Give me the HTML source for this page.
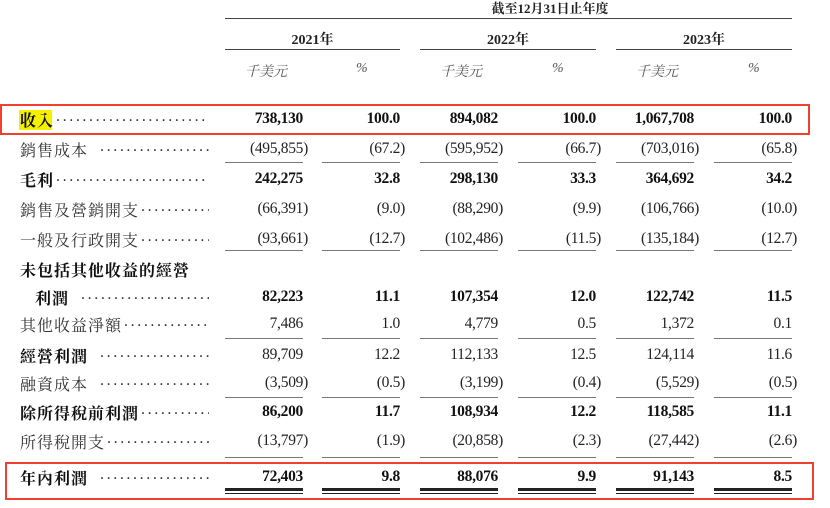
<!DOCTYPE html>
<html><head><meta charset="utf-8"><style>
body{margin:0;width:830px;height:508px;background:#fff;position:relative;overflow:hidden;font-family:"Liberation Serif","Noto Serif CJK SC",serif;color:#222}
.a{position:absolute;white-space:nowrap}
.lab{left:20px;width:189px;display:flex;font-size:16px;letter-spacing:1px;font-family:"Liberation Serif","Noto Serif CJK TC","Noto Serif CJK SC",serif;color:#333}
.lab b{color:#111}
.lab i{flex:1;overflow:hidden;font-style:normal;font-family:"Liberation Serif",serif;letter-spacing:2.6px;padding-left:2px}
.b{font-weight:bold;color:#111}
.n{font-size:15.5px;text-align:right;width:90px;letter-spacing:-0.3px}
.ln{position:absolute;height:1px;background:#444}
.hd{font-size:14px;font-weight:bold;text-align:center}
.u{font-size:14px;font-style:italic;color:#555;font-family:"Liberation Serif","Noto Serif CJK SC",serif}
.box{position:absolute;border:2px solid #f0402f}
</style></head><body>
<div class="a hd" style="left:420px;top:-2px;width:260px;font-size:13px">截至12月31日止年度</div>
<div class="ln" style="left:225px;width:567px;top:18px"></div>
<div class="a hd" style="left:225px;top:29px;width:175px">2021年</div>
<div class="a hd" style="left:420px;top:29px;width:176px">2022年</div>
<div class="a hd" style="left:616px;top:29px;width:176px">2023年</div>
<div class="ln" style="left:225px;width:175px;top:49px"></div>
<div class="ln" style="left:420px;width:176px;top:49px"></div>
<div class="ln" style="left:616px;width:176px;top:49px"></div>
<div class="a u" style="left:245px;top:61px">千美元</div><div class="a u" style="left:356px;top:61px">%</div>
<div class="a u" style="left:440px;top:61px">千美元</div><div class="a u" style="left:552px;top:61px">%</div>
<div class="a u" style="left:636px;top:61px">千美元</div><div class="a u" style="left:748px;top:61px">%</div>

<div class="box" style="left:0;top:104px;width:806px;height:27px"></div>
<div class="box" style="left:5px;top:462px;width:805px;height:34px"></div>
<div class="a" style="left:19px;top:110px;width:33px;height:20px;background:#f4f000"></div>

<div id="rows"></div>
<script>
var D='<i>........................................</i>';
var cols=[303,400,498,596,694,792];
var rows=[
[108,'<b>收入</b>'+D,1,['738,130','100.0','894,082','100.0','1,067,708','100.0']],
[138,'銷售成本&nbsp;&nbsp;'+D,0,['(495,855)','(67.2)','(595,952)','(66.7)','(703,016)','(65.8)']],
[168,'<b>毛利</b>'+D,1,['242,275','32.8','298,130','33.3','364,692','34.2']],
[198,'銷售及營銷開支'+D,0,['(66,391)','(9.0)','(88,290)','(9.9)','(106,766)','(10.0)']],
[228,'一般及行政開支'+D,0,['(93,661)','(12.7)','(102,486)','(11.5)','(135,184)','(12.7)']],
[258,'<b>未包括其他收益的經營</b>',1,null],
[286,'<b>&nbsp;&nbsp;&nbsp;利潤</b>&nbsp;&nbsp;'+D,1,['82,223','11.1','107,354','12.0','122,742','11.5']],
[313,'其他收益淨額'+D,0,['7,486','1.0','4,779','0.5','1,372','0.1']],
[344,'<b>經營利潤</b>&nbsp;&nbsp;'+D,0,['89,709','12.2','112,133','12.5','124,114','11.6']],
[372,'融資成本&nbsp;&nbsp;'+D,0,['(3,509)','(0.5)','(3,199)','(0.4)','(5,529)','(0.5)']],
[401,'<b>除所得稅前利潤</b>'+D,1,['86,200','11.7','108,934','12.2','118,585','11.1']],
[430,'所得稅開支'+D,0,['(13,797)','(1.9)','(20,858)','(2.3)','(27,442)','(2.6)']],
[466,'<b>年內利潤</b>&nbsp;&nbsp;'+D,1,['72,403','9.8','88,076','9.9','91,143','8.5']]
];
var h='';
rows.forEach(function(r){
 h+='<div class="a lab" style="top:'+r[0]+'px">'+r[1]+'</div>';
 if(r[3]) r[3].forEach(function(v,i){
  var p=v.charAt(0)=='('; var right=cols[i]+(p?5:0);
  h+='<div class="a n'+(r[2]?' b':'')+'" style="top:'+(r[0]+2)+'px;left:'+(right-90)+'px">'+v+'</div>';
 });
});
[162,250,338,397,457].forEach(function(y){cols.forEach(function(c){h+='<div class="ln" style="top:'+y+'px;left:'+(c-78)+'px;width:78px;background:#777"></div>';});});
cols.forEach(function(c){h+='<div class="ln" style="top:488px;height:3px;left:'+(c-78)+'px;width:78px;background:#222"></div><div class="ln" style="top:493px;left:'+(c-78)+'px;width:78px;background:#222"></div>';});
document.getElementById('rows').innerHTML=h;
</script>
</body></html>
